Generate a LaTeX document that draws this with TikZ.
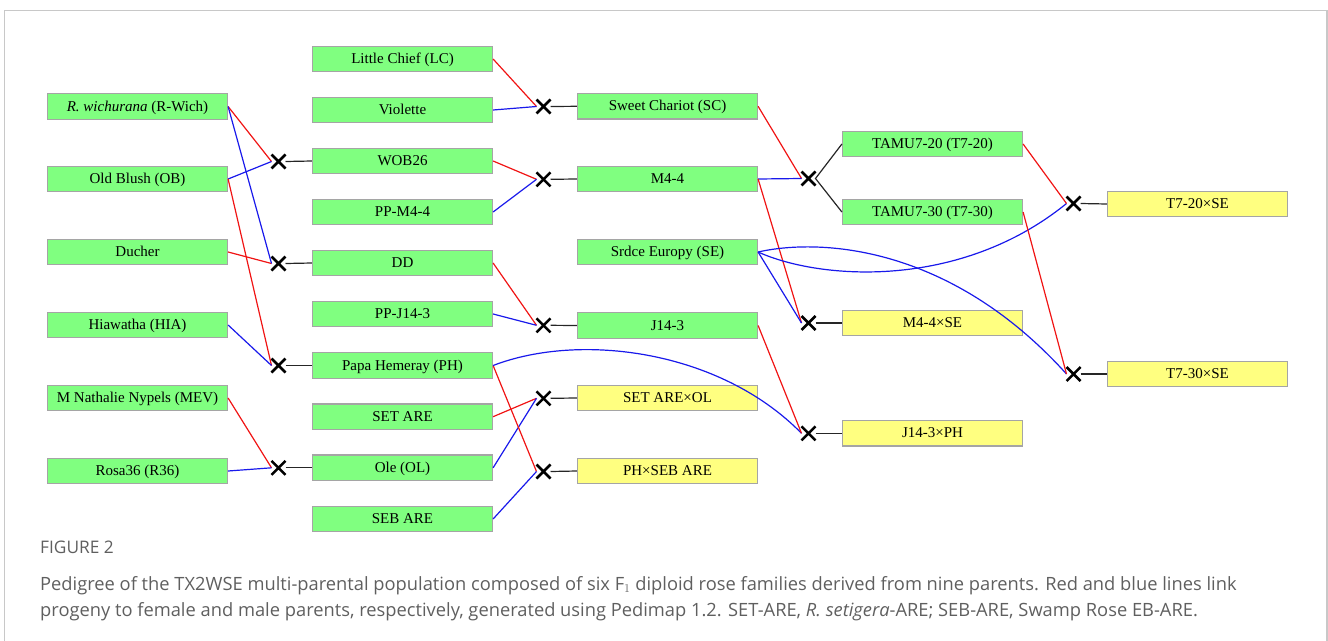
\documentclass[tikz,border=0pt]{standalone}
\usepackage{fontspec}
\setmainfont{Liberation Serif}
\newfontfamily\capfont{Open Sans}
\usetikzlibrary{shapes.misc}
\definecolor{boxgreen}{RGB}{128,255,128}
\definecolor{boxyellow}{RGB}{255,255,128}
\definecolor{boxborder}{RGB}{165,165,165}
\definecolor{framegray}{RGB}{200,200,200}
\definecolor{captiongray}{RGB}{95,95,95}
\definecolor{femred}{RGB}{240,20,20}
\definecolor{maleblue}{RGB}{25,25,235}
\tikzset{
  pbox/.style={draw=boxborder, line width=1.2pt, fill=boxgreen, minimum width=180pt, minimum height=25.5pt, inner sep=0pt, text height=10.5pt, text depth=1.5pt, font=\fontsize{15}{17}\selectfont},
  ybox/.style={pbox, fill=boxyellow},
  xmark/.style={cross out, draw=black, line width=2.5pt, minimum size=9pt, inner sep=0pt, outer sep=2.5pt},
  fem/.style={draw=femred, line width=1.2pt},
  mal/.style={draw=maleblue, line width=1.2pt},
  kid/.style={draw=black!85, line width=1.2pt},
  captext/.style={anchor=base west, inner sep=0pt, text=captiongray, font=\capfont\fontsize{18.3}{22}\selectfont},
}
\begin{document}
\begin{tikzpicture}[x=1pt,y=-1pt]
\useasboundingbox (0,0) rectangle (1328,640);
\draw[framegray, line width=1.5pt] (4.5,645) -- (4.5,10.5) -- (1326.8,10.5) -- (1326.8,645);

% column 1
\node[pbox] (rw) at (137.5,106.5) {\textit{R. wichurana} (R-Wich)};
\node[pbox] (ob) at (137.5,179) {Old Blush (OB)};
\node[pbox] (du) at (137.5,252) {Ducher};
\node[pbox] (hia) at (137.5,325) {Hiawatha (HIA)};
\node[pbox] (mev) at (137.5,398) {M Nathalie Nypels (MEV)};
\node[pbox] (r36) at (137.5,471) {Rosa36 (R36)};

% column 2
\node[pbox] (lc) at (402.5,59) {Little Chief (LC)};
\node[pbox] (vi) at (402.5,110) {Violette};
\node[pbox] (wob) at (402.5,161) {WOB26};
\node[pbox] (ppm) at (402.5,212) {PP-M4-4};
\node[pbox] (dd) at (402.5,263) {DD};
\node[pbox] (ppj) at (402.5,314) {PP-J14-3};
\node[pbox] (ph) at (402.5,365.5) {Papa Hemeray (PH)};
\node[pbox] (set) at (402.5,416.7) {SET ARE};
\node[pbox] (ol) at (402.5,467.8) {Ole (OL)};
\node[pbox] (seb) at (402.5,519) {SEB ARE};

% column 3
\node[pbox] (sc) at (667.5,106.3) {Sweet Chariot (SC)};
\node[pbox] (m44) at (667.5,179) {M4-4};
\node[pbox] (se) at (667.5,252) {Srdce Europy (SE)};
\node[pbox] (j143) at (667.5,325.5) {J14-3};
\node[ybox] (setol) at (667.5,398) {SET ARE×OL};
\node[ybox] (phseb) at (667.5,471) {PH×SEB ARE};

% column 4
\node[pbox] (t720) at (932.5,144) {TAMU7-20 (T7-20)};
\node[pbox] (t730) at (932.5,212) {TAMU7-30 (T7-30)};
\node[ybox] (m4se) at (932.5,323) {M4-4×SE};
\node[ybox] (j14ph) at (932.5,433.3) {J14-3×PH};

% column 5
\node[ybox] (t720se) at (1197.5,204) {T7-20×SE};
\node[ybox] (t730se) at (1197.5,374) {T7-30×SE};

% crosses
\node[xmark] (c1) at (278.5,161.5) {};
\node[xmark] (c2) at (278.5,263.5) {};
\node[xmark] (c3) at (278.5,365.5) {};
\node[xmark] (c4) at (278.5,467.8) {};
\node[xmark] (c5) at (543.5,106.5) {};
\node[xmark] (c6) at (543.5,179.3) {};
\node[xmark] (c7) at (543.5,325.3) {};
\node[xmark] (c8) at (543.5,398.3) {};
\node[xmark] (c9) at (543.5,471.5) {};
\node[xmark] (c10) at (808.5,178.5) {};
\node[xmark] (c11) at (808.5,323) {};
\node[xmark] (c12) at (808.5,433.3) {};
\node[xmark] (c13) at (1073.5,203.5) {};
\node[xmark] (c14) at (1073.5,374) {};

% cross to child
\draw[kid] (c1.east) -- (wob.west);
\draw[kid] (c2.east) -- (dd.west);
\draw[kid] (c3.east) -- (ph.west);
\draw[kid] (c4.east) -- (ol.west);
\draw[kid] (c5.east) -- (sc.west);
\draw[kid] (c6.east) -- (m44.west);
\draw[kid] (c7.east) -- (j143.west);
\draw[kid] (c8.east) -- (setol.west);
\draw[kid] (c9.east) -- (phseb.west);
\draw[kid] (t720.west) -- (c10.east) -- (t730.west);
\draw[kid] (c11.east) -- (m4se.west);
\draw[kid] (c12.east) -- (j14ph.west);
\draw[kid] (c13.east) -- (t720se.west);
\draw[kid] (c14.east) -- (t730se.west);

% parents - column 1
\draw[fem] (rw.east) -- (c1.west);
\draw[mal] (ob.east) -- (c1.west);
\draw[fem] (du.east) -- (c2.west);
\draw[mal] (rw.east) -- (c2.west);
\draw[fem] (ob.east) -- (c3.west);
\draw[mal] (hia.east) -- (c3.west);
\draw[fem] (mev.east) -- (c4.west);
\draw[mal] (r36.east) -- (c4.west);

% parents - column 2
\draw[fem] (lc.east) -- (c5.west);
\draw[mal] (vi.east) -- (c5.west);
\draw[fem] (wob.east) -- (c6.west);
\draw[mal] (ppm.east) -- (c6.west);
\draw[fem] (dd.east) -- (c7.west);
\draw[mal] (ppj.east) -- (c7.west);
\draw[fem] (set.east) -- (c8.west);
\draw[mal] (ol.east) -- (c8.west);
\draw[fem] (ph.east) -- (c9.west);
\draw[mal] (seb.east) -- (c9.west);
\draw[mal] (ph.east) .. controls (580,332) and (720,350) .. (c12.west);

% parents - column 3
\draw[fem] (sc.east) -- (c10.west);
\draw[mal] (m44.east) -- (c10.west);
\draw[fem] (m44.east) -- (c11.west);
\draw[mal] (se.east) -- (c11.west);
\draw[fem] (j143.east) -- (c12.west);
\draw[mal] (se.east) .. controls (820,280) and (960,290) .. (c13.west);
\draw[mal] (se.east) .. controls (820,238) and (950,245) .. (c14.west);

% parents - column 4
\draw[fem] (t720.east) -- (c13.west);
\draw[fem] (t730.east) -- (c14.west);

% caption
\node[captext, font=\capfont\fontsize{17.3}{20}\selectfont] (fig) at (40,553) {FIGURE 2};
\node[captext] (cap1) at (40,590) {Pedigree of the TX2WSE multi-parental population composed of six F$_1$ diploid rose families derived from nine parents. Red and blue lines link};
\node[captext] (cap2) at (40,616) {progeny to female and male parents, respectively, generated using Pedimap 1.2. SET-ARE, \textit{R. setigera}-ARE; SEB-ARE, Swamp Rose EB-ARE.};
\end{tikzpicture}
\end{document}
